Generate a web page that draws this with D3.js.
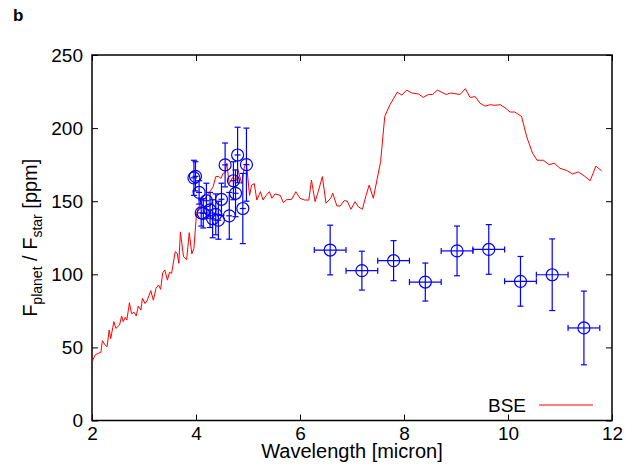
<!DOCTYPE html>
<html>
<head>
<meta charset="utf-8">
<script src="https://cdn.jsdelivr.net/npm/d3@7"></script>
<style>
  body { margin: 0; background: #fff; }
  svg { font-family: "Liberation Sans", Arial, Helvetica, sans-serif; }
</style>
</head>
<body>
<div id="vis"></div>
<script>
// set constants
const FRAME_HEIGHT = 469;
const FRAME_WIDTH = 644;
const MARGINS = {left: 92, right: 32, top: 55, bottom: 48.5};

const VIS_HEIGHT = FRAME_HEIGHT - MARGINS.top - MARGINS.bottom;
const VIS_WIDTH = FRAME_WIDTH - MARGINS.left - MARGINS.right;

// tick labels
const X_TICKS = [2, 4, 6, 8, 10, 12];
const Y_TICKS = [0, 50, 100, 150, 200, 250];

// BSE model spectrum (red line)
const BSE_X = [2.0, 2.06, 2.12, 2.17, 2.2, 2.25, 2.29, 2.33, 2.36, 2.40, 2.42, 2.46, 2.53, 2.57, 2.60,
  2.64, 2.67, 2.72, 2.76, 2.81, 2.85, 2.89, 2.94, 2.97, 3.02, 3.06, 3.13, 3.18, 3.23, 3.28, 3.32,
  3.36, 3.40, 3.45, 3.49, 3.53, 3.60, 3.64, 3.67, 3.70, 3.76, 3.82, 3.87, 3.92, 3.96, 4.01, 4.08,
  4.14, 4.24, 4.33, 4.38, 4.43, 4.48, 4.52, 4.56, 4.59, 4.64, 4.70, 4.78, 4.81, 4.88, 4.93, 4.97,
  5.03, 5.07, 5.12, 5.17, 5.24, 5.29, 5.35, 5.41, 5.46, 5.52, 5.62, 5.68, 5.74, 5.84, 5.92, 6.0,
  6.09, 6.17, 6.22, 6.29, 6.35, 6.43, 6.50, 6.59, 6.63, 6.71, 6.77, 6.85, 6.91, 6.98, 7.06, 7.12,
  7.20, 7.27, 7.33, 7.41, 7.55, 7.63, 7.73, 7.87, 7.96, 8.05, 8.15, 8.28, 8.37, 8.47, 8.55, 8.64,
  8.81, 8.90, 9.08, 9.18, 9.27, 9.37, 9.46, 9.56, 9.65, 9.75, 9.85, 9.94, 10.04, 10.13, 10.26,
  10.36, 10.47, 10.56, 10.68, 10.79, 10.89, 11.0, 11.13, 11.24, 11.35, 11.46, 11.58, 11.69, 11.80];
const BSE_Y = [40.2, 44.8, 46, 46.5, 54.6, 51.7, 50.5, 61.9, 56, 63.7, 67.6, 63, 65.3, 71.5, 67.6,
  70.6, 68.7, 80.6, 73, 74, 71.5, 78.3, 75.5, 83.6, 80, 82, 88.8, 82.3, 90.4, 92.7, 89.7,
  101, 103, 96, 101.4, 100.6, 115.5, 114.3, 107.5, 129, 112, 110, 128.5, 114, 117.8, 141.7, 148.6,
  150.8, 155, 160, 166.8, 167, 165.6, 169, 169.5, 176, 162, 166, 164.5, 171, 162, 173.6, 176,
  154, 161, 162, 150.8, 156.5, 150.8, 154, 156.5, 152, 155, 154, 149, 151, 151.3, 156.5, 152,
  150.8, 150.8, 164.5, 149.7, 156.5, 166.8, 148.6, 152, 155.4, 146.7, 146.7, 150.4, 150, 144.5, 149.7, 146.2,
  144.5, 154, 161, 152, 177, 208, 216, 224.5, 222.6, 226, 224, 223.3, 221, 223, 223, 226,
  223, 224, 223, 227, 221, 221.5, 217, 215, 216, 215.6, 216, 214, 211, 211, 208,
  194, 183, 178, 178, 175, 176, 172.5, 171, 168.6, 170, 167.5, 164, 174, 170.7];

// observed points, 4-5 micron
const NIR_X = [3.96, 3.99, 4.06, 4.10, 4.14, 4.20, 4.27, 4.32, 4.38, 4.43, 4.49, 4.56, 4.64, 4.72, 4.76, 4.80, 4.90, 4.97];
const NIR_Y = [166, 167, 156, 142, 141.7, 150.3, 144, 138, 141, 137, 151.3, 174.8, 140, 164, 155.4, 181.6, 145, 175];
const NIR_ERR = [12, 10, 8, 9, 10, 12, 12, 13, 14, 13, 11, 15, 16, 13, 16, 19, 24, 25];

// observed points, 6-12 micron
const MIR_X = [6.58, 7.19, 7.80, 8.41, 9.02, 9.63, 10.24, 10.85, 11.46];
const MIR_Y = [116.6, 102.5, 109.3, 94.7, 116, 117, 95.2, 99.7, 63.3];
const MIR_ERR = [17, 13.3, 13.7, 13, 17, 17, 17, 24.5, 25.2];
const MIR_XERR = 0.305;

const FRAME = d3.select("#vis")
  .append("svg")
    .attr("height", FRAME_HEIGHT)
    .attr("width", FRAME_WIDTH);

const X_SCALE = d3.scaleLinear().domain([2, 12]).range([0, VIS_WIDTH]);
const Y_SCALE = d3.scaleLinear().domain([0, 250]).range([VIS_HEIGHT, 0]);

const G = FRAME.append("g")
  .attr("transform", "translate(" + MARGINS.left + "," + MARGINS.top + ")");

// inward ticks on all four sides
const TICK = 6;
G.append("g")
  .attr("transform", "translate(0," + VIS_HEIGHT + ")")
  .call(d3.axisBottom(X_SCALE).tickValues(X_TICKS).tickSize(-TICK).tickPadding(6));
G.append("g")
  .call(d3.axisTop(X_SCALE).tickValues(X_TICKS).tickSize(-TICK).tickFormat(""));
G.append("g")
  .call(d3.axisLeft(Y_SCALE).tickValues(Y_TICKS).tickSize(-TICK).tickPadding(9));
G.append("g")
  .attr("transform", "translate(" + VIS_WIDTH + ",0)")
  .call(d3.axisRight(Y_SCALE).tickValues(Y_TICKS).tickSize(-TICK).tickFormat(""));

G.selectAll(".domain").remove();
G.selectAll(".tick line").attr("stroke", "#000").attr("stroke-width", 1);
G.selectAll(".tick text")
  .attr("fill", "#000")
  .style("font-size", "19px");

// frame
G.append("rect")
  .attr("width", VIS_WIDTH)
  .attr("height", VIS_HEIGHT)
  .attr("fill", "none")
  .attr("stroke", "#000")
  .attr("stroke-width", 1.5);

// BSE line
const bse = BSE_X.map((x, i) => ({x: x, y: BSE_Y[i]}));
G.append("path")
  .datum(bse)
  .attr("fill", "none")
  .attr("stroke", "#ff0000")
  .attr("stroke-width", 1)
  .attr("d", d3.line().x(d => X_SCALE(d.x)).y(d => Y_SCALE(d.y)));

// data points with error bars
const pts = NIR_X.map((x, i) => ({x: x, y: NIR_Y[i], e: NIR_ERR[i], xe: 0}))
  .concat(MIR_X.map((x, i) => ({x: x, y: MIR_Y[i], e: MIR_ERR[i], xe: MIR_XERR})));

const CAP = 3;
const BLUE = "#0000ff";
const pg = G.append("g")
  .attr("stroke", BLUE)
  .attr("stroke-width", 1.2)
  .attr("fill", "none");

pts.forEach(d => {
  const cx = X_SCALE(d.x), cy = Y_SCALE(d.y);
  const y0 = Y_SCALE(d.y - d.e), y1 = Y_SCALE(d.y + d.e);
  pg.append("line").attr("x1", cx).attr("x2", cx).attr("y1", y0).attr("y2", y1);
  pg.append("line").attr("x1", cx - CAP).attr("x2", cx + CAP).attr("y1", y0).attr("y2", y0);
  pg.append("line").attr("x1", cx - CAP).attr("x2", cx + CAP).attr("y1", y1).attr("y2", y1);
  if (d.xe > 0) {
    const x0 = X_SCALE(d.x - d.xe), x1 = X_SCALE(d.x + d.xe);
    pg.append("line").attr("x1", x0).attr("x2", x1).attr("y1", cy).attr("y2", cy);
    pg.append("line").attr("x1", x0).attr("x2", x0).attr("y1", cy - CAP).attr("y2", cy + CAP);
    pg.append("line").attr("x1", x1).attr("x2", x1).attr("y1", cy - CAP).attr("y2", cy + CAP);
  } else {
    pg.append("line").attr("x1", cx - CAP).attr("x2", cx + CAP).attr("y1", cy).attr("y2", cy);
  }
  pg.append("circle").attr("cx", cx).attr("cy", cy).attr("r", 6);
});

// legend
FRAME.append("text")
  .attr("x", 526)
  .attr("y", 412)
  .attr("text-anchor", "end")
  .style("font-size", "19px")
  .text("BSE");
FRAME.append("line")
  .attr("x1", 539).attr("x2", 593)
  .attr("y1", 405).attr("y2", 405)
  .attr("stroke", "#ff0000")
  .attr("stroke-width", 1);

// X label
FRAME.append("text")
  .attr("x", MARGINS.left + VIS_WIDTH / 2)
  .attr("y", 458)
  .attr("text-anchor", "middle")
  .style("font-size", "20px")
  .text("Wavelength [micron]");

// Y label
const ylab = FRAME.append("text")
  .attr("transform", "translate(37," + (MARGINS.top + VIS_HEIGHT / 2) + ") rotate(-90)")
  .attr("text-anchor", "middle")
  .style("font-size", "20px");
ylab.append("tspan").text("F");
ylab.append("tspan").attr("dy", 5).style("font-size", "14px").text("planet");
ylab.append("tspan").attr("dy", -5).text(" / F");
ylab.append("tspan").attr("dy", 5).style("font-size", "14px").text("star");
ylab.append("tspan").attr("dy", -5).text(" [ppm]");

// panel letter
FRAME.append("text")
  .attr("x", 13)
  .attr("y", 21)
  .style("font-size", "17px")
  .style("font-weight", "bold")
  .text("b");
</script>
</body>
</html>
